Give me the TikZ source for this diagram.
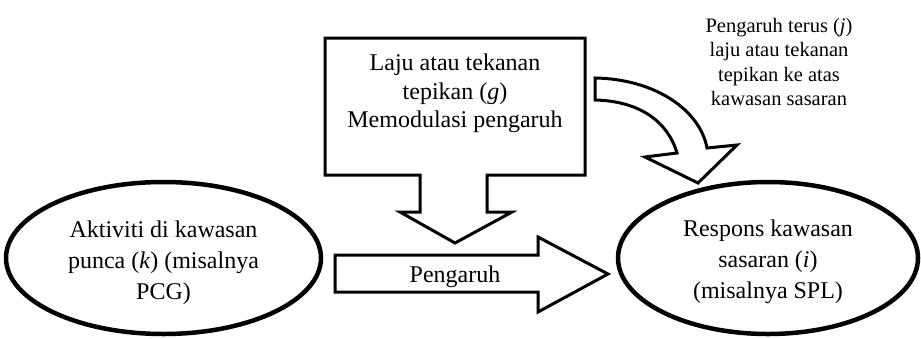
\documentclass[tikz,border=0pt]{standalone}
\usepackage{fontspec}
\setmainfont{Liberation Serif}
\usetikzlibrary{shapes.geometric}
\begin{document}
\begin{tikzpicture}[x=1pt,y=-1pt,
  region/.style={ellipse,draw,line width=4.5pt,minimum height=152pt,inner sep=0pt},
  regiontext/.style={align=center,inner sep=0pt,font=\fontsize{24}{31}\selectfont},
  blockarrow/.style={draw,line width=3pt,line join=miter,miter limit=10,fill=white},
  boxtext/.style={align=center,inner sep=0pt,font=\fontsize{24}{28.5}\selectfont},
  sidetext/.style={align=center,inner sep=0pt,font=\fontsize{20.5}{24.5}\selectfont}]
\useasboundingbox (0,0) rectangle (921,338);

% source and target regions
\node[region,minimum width=315pt] (src) at (163.5,258) {};
\node[regiontext] (srctext) at ([yshift=-5pt]src.center)
  {Aktiviti di kawasan\\punca (\textit{k}) (misalnya\\PCG)};
\node[region,minimum width=300pt] (tgt) at (768,258) {};
\node[regiontext] (tgttext) at ([yshift=-4pt]tgt.center)
  {Respons kawasan\\sasaran (\textit{i})\\(misalnya SPL)};

% modulating box with its downward arrow
\draw[blockarrow] (420,175) -- (325,175) -- (325,38) -- (585,38) -- (585,175)
  -- (487,175) -- (487,212) -- (512,212) -- (455,243) -- (400,212)
  -- (420,212) -- cycle;
\node[boxtext] (mod) at (455,93.5)
  {Laju atau tekanan\\tepikan (\textit{g})\\Memodulasi pengaruh};

% influence arrow from source to target
\draw[blockarrow] (335,255) -- (538,255) -- (538,237) -- (608,274)
  -- (538,312) -- (538,292) -- (335,292) -- cycle;
\node[boxtext] (infl) at (455,276.5) {Pengaruh};

% curved arrow for the direct marginal effect
\draw[blockarrow] (595,78) .. controls (655,79) and (700,110) .. (707,148)
  -- (737,145) -- (698,183) -- (645,157) -- (677,153)
  .. controls (668,122) and (640,101) .. (595,100) -- cycle;
\node[sidetext] (carry) at (779,62)
  {Pengaruh terus (\textit{j})\\laju atau tekanan\\tepikan ke atas\\kawasan sasaran};
\end{tikzpicture}
\end{document}
